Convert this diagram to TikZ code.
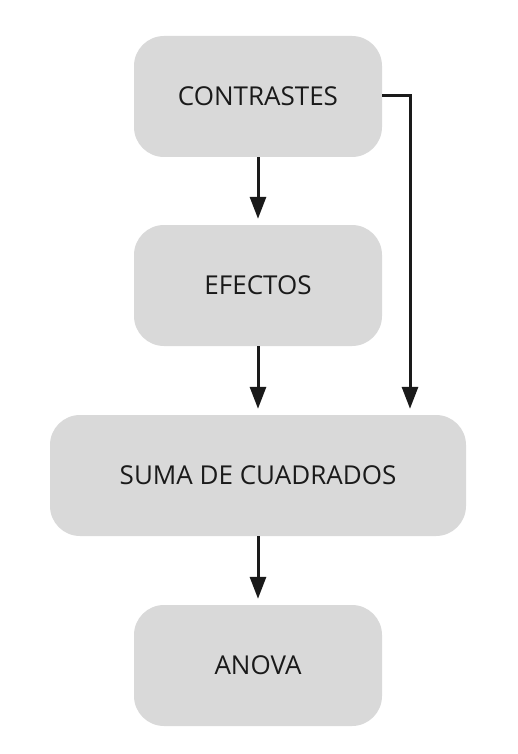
\documentclass[tikz,border=0pt]{standalone}
\usepackage{fontspec}
\setmainfont{Open Sans}
\usetikzlibrary{arrows.meta}
\definecolor{boxgray}{HTML}{D9D9D9}
\definecolor{linecol}{HTML}{1A1A1A}
\tikzset{
  box/.style={fill=boxgray, rounded corners=30pt, minimum height=121pt, inner sep=0pt, font=\fontsize{26}{30}\selectfont, text=linecol},
  conn/.style={draw=linecol, line width=3pt, -{Triangle[length=22pt,width=16pt]}}
}
\begin{document}
\begin{tikzpicture}[x=1pt,y=-1pt]
\useasboundingbox (0,0) rectangle (518,754);
\node[box, minimum width=248pt] (c) at (258,96.5) {CONTRASTES};
\node[box, minimum width=248pt] (e) at (258,285.5) {EFECTOS};
\node[box, minimum width=416pt] (s) at (258,475.5) {SUMA DE CUADRADOS};
\node[box, minimum width=248pt] (a) at (258,665.5) {ANOVA};
\coordinate (corner) at (410,96);
\draw[conn] (c.south) -- ([yshift=6pt]e.north);
\draw[conn] (e.south) -- ([yshift=6pt]s.north);
\draw[conn] (s.south) -- ([yshift=6pt]a.north);
\draw[conn] (c.east |- corner) -- (corner) -- ([yshift=6pt]corner |- s.north);
\end{tikzpicture}
\end{document}
